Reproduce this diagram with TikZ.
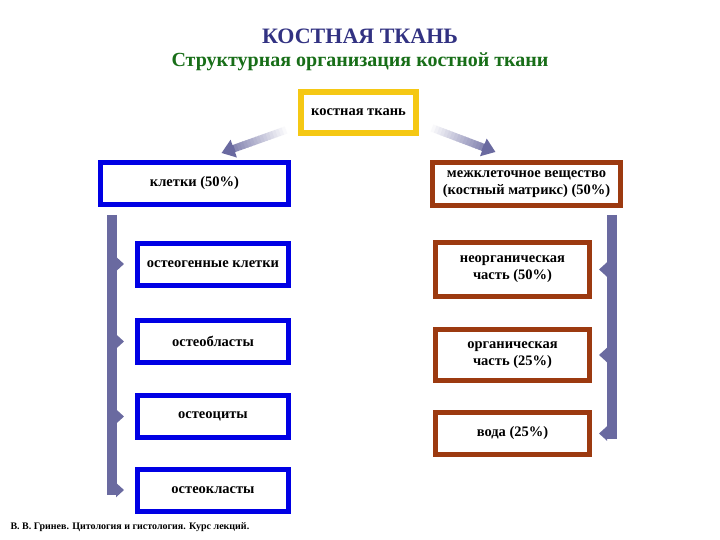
\documentclass[tikz,border=0pt]{standalone}
\usepackage{fontspec}
\setmainfont{Liberation Serif}
\usetikzlibrary{arrows.meta,calc}

\definecolor{barcol}{RGB}{106,106,160}
\definecolor{cellblue}{RGB}{0,0,228}
\definecolor{matbrown}{RGB}{156,58,16}
\definecolor{tissueyellow}{RGB}{245,200,20}
\definecolor{titleblue}{RGB}{50,50,130}
\definecolor{subgreen}{RGB}{24,110,24}

\tikzset{
	box/.style={draw, line width=5pt, fill=white, inner sep=0pt, align=center,
		font=\fontsize{14.5}{17}\selectfont\bfseries},
	tissuebox/.style={box, draw=tissueyellow, line width=6pt},
	cellbox/.style={box, draw=cellblue},
	matbox/.style={box, draw=matbrown},
	bar/.style={draw=barcol, line width=10pt},
	branch/.style={draw=barcol, line width=5pt,
		-{Triangle[width=14pt,length=8pt]}, shorten >=11pt},
}

\begin{document}
\begin{tikzpicture}[x=1pt, y=-1pt]
	\useasboundingbox[fill=white] (0,0) rectangle (720,540);

	% Ueberschrift
	\node (title) at (360,36) {\fontsize{22}{25}\selectfont\bfseries
		\textcolor{titleblue}{КОСТНАЯ ТКАНЬ}};
	\node (subtitle) at (360,62) {\fontsize{20}{23}\selectfont\bfseries
		\textcolor{subgreen}{Структурная организация костной ткани}};

	% Kaesten oben
	\node[tissuebox, minimum width=115pt, minimum height=41pt] (tissue)
		at (358.5,112.5) {костная ткань};
	\node[cellbox, minimum width=188pt, minimum height=42pt] (cells)
		at (194.5,183.5) {клетки (50\%)};
	\node[matbox, minimum width=188pt, minimum height=43pt] (matrix)
		at (526.5,184) {межклеточное вещество\\(костный матрикс) (50\%)};

	% Zellen
	\node[cellbox, minimum width=151pt, minimum height=42pt] (osteogenic)
		at (213,264) {остеогенные клетки};
	\node[cellbox, minimum width=151pt, minimum height=42pt] (osteoblasts)
		at (213,341.5) {остеобласты};
	\node[cellbox, minimum width=151pt, minimum height=42pt] (osteocytes)
		at (213,416.5) {остеоциты};
	\node[cellbox, minimum width=151pt, minimum height=42pt] (osteoclasts)
		at (213,490) {остеокласты};

	% Matrix
	\node[matbox, minimum width=154pt, minimum height=54pt] (inorganic)
		at (512.5,269.5) {неорганическая\\часть (50\%)};
	\node[matbox, minimum width=154pt, minimum height=51pt] (organic)
		at (512.5,355) {органическая\\часть (25\%)};
	\node[matbox, minimum width=154pt, minimum height=42pt] (water)
		at (512.5,433.5) {вода (25\%)};

	% Pfeile von oben
	\coordinate (ltail) at ($(tissue.south west)+(-12,-6)$);
	\coordinate (lhead) at ($(cells.north)+(27,-7)$);
	\coordinate (rtail) at ($(tissue.south east)+(13,-8)$);
	\coordinate (rhead) at ($(matrix.north)+(-31,-8)$);
	\foreach \a/\b in {ltail/lhead, rtail/rhead}{
		\foreach \i in {0,...,16}{
			\pgfmathsetmacro{\from}{\i/20}
			\pgfmathsetmacro{\to}{(\i+1.2)/20}
			\pgfmathsetmacro{\pct}{int(4+5*\i)}
			\draw[barcol!\pct!white, line width=7.5pt]
				($(\a)!\from!(\b)$) -- ($(\a)!\to!(\b)$);
		}
		\draw[barcol, line width=7.5pt, -{Triangle[width=18pt,length=13pt]}]
			($(\a)!0.8!(\b)$) -- (\b);
	}

	% Balken links
	\coordinate (ltop) at (112,215);
	\draw[bar, -{Triangle[width=14pt,length=8pt]}, shorten >=11pt]
		(ltop) |- (osteoclasts.west);
	\foreach \n in {osteogenic, osteoblasts, osteocytes}
		\draw[branch] (ltop |- \n.west) -- (\n.west);

	% Balken rechts
	\coordinate (rtop) at (612,215);
	\draw[bar, -{Triangle[width=14pt,length=8pt]}, shorten >=7pt]
		(rtop) |- (water.east);
	\foreach \n in {inorganic, organic}
		\draw[branch, shorten >=7pt] (rtop |- \n.east) -- (\n.east);

	% Quelle
	\node[anchor=west, font=\fontsize{10}{12}\selectfont\bfseries] (source)
		at (7,527) {В. В. Гринев. Цитология и гистология. Курс лекций.};
\end{tikzpicture}
\end{document}
